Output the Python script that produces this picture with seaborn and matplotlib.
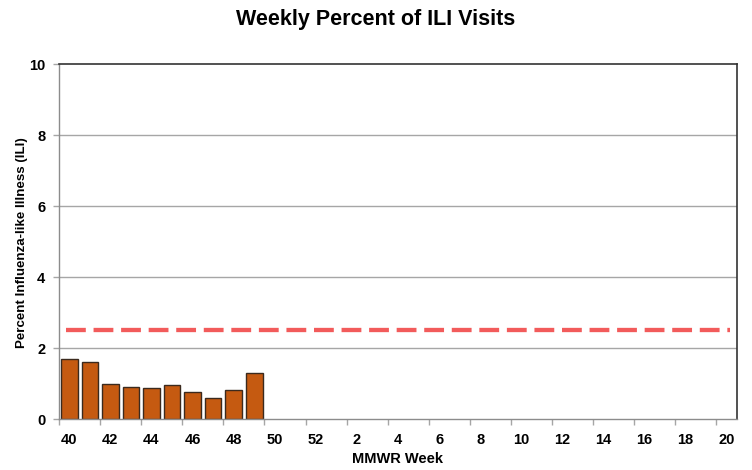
import numpy as np
import pandas as pd
import matplotlib
matplotlib.use("Agg")
import matplotlib.pyplot as plt
import seaborn as sns
from matplotlib.ticker import FixedLocator

weeks = [40, 41, 42, 43, 44, 45, 46, 47, 48, 49, 50, 51, 52,
         1, 2, 3, 4, 5, 6, 7, 8, 9, 10, 11, 12, 13, 14, 15, 16, 17, 18, 19, 20]
ili_pct = [1.69, 1.61, 1.00, 0.90, 0.86, 0.96, 0.76, 0.59, 0.81, 1.29]
baseline = 2.5
tick_labels = ["40", "42", "44", "46", "48", "50", "52", "2", "4", "6", "8",
               "10", "12", "14", "16", "18", "20"]

vals = ili_pct + [np.nan] * (len(weeks) - len(ili_pct))
df = pd.DataFrame({"week": [str(w) for w in weeks], "pct": vals})

sns.set_style("white")
plt.rcParams["font.family"] = ["Liberation Sans", "DejaVu Sans"]
plt.rcParams["text.color"] = "black"
plt.rcParams["axes.labelcolor"] = "black"
plt.rcParams["xtick.color"] = "black"
plt.rcParams["ytick.color"] = "black"

fig = plt.figure(figsize=(7.52, 4.70), dpi=100)
ax = fig.add_axes([0.0785, 0.1085, 0.9015, 0.7553])

for yv in [2, 4, 6, 8]:
    ax.axhline(yv, color="#A6A6A6", lw=1.0, zorder=0)

sns.barplot(data=df, x="week", y="pct", order=[str(w) for w in weeks],
            color="#C55A11", saturation=1, width=0.81,
            edgecolor="#3B2A1E", linewidth=1.0, ax=ax, zorder=2)

ax.hlines(baseline, -0.15, len(weeks) - 1 + 0.15, colors="#F25B5B",
          linewidth=3.1, linestyles=(0, (4.6, 1.8)), zorder=3)

ax.set_xlim(-0.5, len(weeks) - 0.5)
ax.set_ylim(0, 10)
ax.set_yticks([0, 2, 4, 6, 8, 10])
ax.set_yticklabels(["0", "2", "4", "6", "8", "10"], fontsize=10.5, fontweight="bold")

major_pos = list(range(0, len(weeks), 2))
ax.xaxis.set_major_locator(FixedLocator(major_pos))
ax.set_xticklabels(tick_labels, fontsize=10.5, fontweight="bold")
ax.xaxis.set_minor_locator(FixedLocator([p - 0.5 for p in major_pos]))
ax.tick_params(axis="x", which="major", length=0, pad=10, labelcolor="black")
ax.tick_params(axis="x", which="minor", length=4, color="#A6A6A6", width=1, direction="out")
ax.tick_params(axis="y", which="major", length=4, color="#A6A6A6", width=1, pad=6,
               direction="out", labelcolor="black")
ax.tick_params(bottom=True, left=True, which="both")

for s in ["left", "bottom"]:
    ax.spines[s].set_color("#8C8C8C")
    ax.spines[s].set_linewidth(1.0)
for s in ["top", "right"]:
    ax.spines[s].set_color("#333333")
    ax.spines[s].set_linewidth(1.2)
    ax.spines[s].set_visible(True)

ax.set_xlabel("MMWR Week", fontsize=10.5, fontweight="bold", color="black", labelpad=4)
ax.set_ylabel("Percent Influenza-like Illness (ILI)", fontsize=9.6, fontweight="bold",
              color="black")
ax.yaxis.set_label_coords(-0.046, 0.497)
fig.text(0.5, 0.958, "Weekly Percent of ILI Visits", ha="center", va="center",
         fontsize=15.5, fontweight="bold", color="black")

fig.savefig("out.png", dpi=100)
